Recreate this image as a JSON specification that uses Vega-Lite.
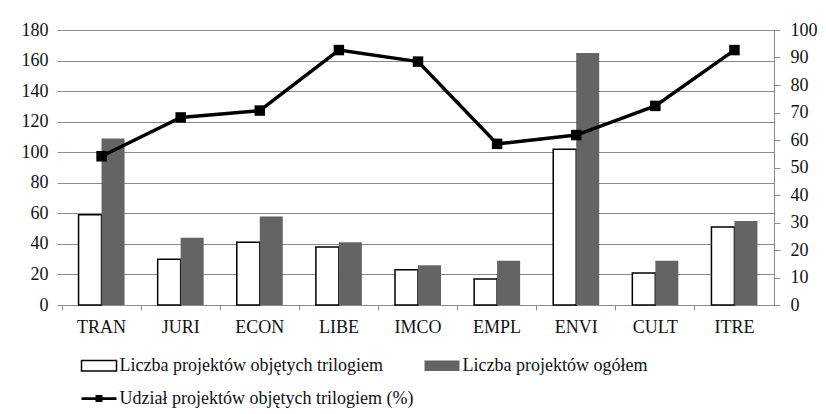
{
  "$schema": "https://vega.github.io/schema/vega-lite/v6.json",
  "width": 712,
  "height": 275,
  "autosize": {"type": "none"},
  "padding": {"left": 62, "top": 30, "right": 52, "bottom": 109},
  "background": "white",
  "config": {
    "view": {"stroke": null},
    "font": "Liberation Serif",
    "axis": {"labelFont": "Liberation Serif", "labelFontSize": 18, "labelColor": "#111111", "gridColor": "#8a8a8a", "tickColor": "#8a8a8a", "domainColor": "#8a8a8a", "gridWidth": 1, "tickWidth": 1, "domainWidth": 1, "title": null},
    "legend": {
      "orient": "none",
      "legendX": 23.5,
      "legendY": 322,
      "direction": "horizontal",
      "columns": 2,
      "columnPadding": 8,
      "rowPadding": 10,
      "padding": 0,
      "symbolSize": 625,
      "symbolStrokeWidth": 1.5,
      "symbolOpacity": 1,
      "labelFont": "Liberation Serif",
      "labelFontSize": 18,
      "labelColor": "#111111",
      "labelOffset": 7,
      "labelLimit": 400
    }
  },
  "datasets": {
    "bars": [
      {"kom": "TRAN", "series": "Liczba projektów objętych trilogiem", "value": 59},
      {"kom": "TRAN", "series": "Liczba projektów ogółem", "value": 109},
      {"kom": "JURI", "series": "Liczba projektów objętych trilogiem", "value": 30},
      {"kom": "JURI", "series": "Liczba projektów ogółem", "value": 44},
      {"kom": "ECON", "series": "Liczba projektów objętych trilogiem", "value": 41},
      {"kom": "ECON", "series": "Liczba projektów ogółem", "value": 58},
      {"kom": "LIBE", "series": "Liczba projektów objętych trilogiem", "value": 38},
      {"kom": "LIBE", "series": "Liczba projektów ogółem", "value": 41},
      {"kom": "IMCO", "series": "Liczba projektów objętych trilogiem", "value": 23},
      {"kom": "IMCO", "series": "Liczba projektów ogółem", "value": 26},
      {"kom": "EMPL", "series": "Liczba projektów objętych trilogiem", "value": 17},
      {"kom": "EMPL", "series": "Liczba projektów ogółem", "value": 29},
      {"kom": "ENVI", "series": "Liczba projektów objętych trilogiem", "value": 102},
      {"kom": "ENVI", "series": "Liczba projektów ogółem", "value": 165},
      {"kom": "CULT", "series": "Liczba projektów objętych trilogiem", "value": 21},
      {"kom": "CULT", "series": "Liczba projektów ogółem", "value": 29},
      {"kom": "ITRE", "series": "Liczba projektów objętych trilogiem", "value": 51},
      {"kom": "ITRE", "series": "Liczba projektów ogółem", "value": 55}
    ],
    "share": [
      {"kom": "TRAN", "series": "Udział projektów objętych trilogiem (%)", "udzial": 54.1},
      {"kom": "JURI", "series": "Udział projektów objętych trilogiem (%)", "udzial": 68.2},
      {"kom": "ECON", "series": "Udział projektów objętych trilogiem (%)", "udzial": 70.7},
      {"kom": "LIBE", "series": "Udział projektów objętych trilogiem (%)", "udzial": 92.7},
      {"kom": "IMCO", "series": "Udział projektów objętych trilogiem (%)", "udzial": 88.5},
      {"kom": "EMPL", "series": "Udział projektów objętych trilogiem (%)", "udzial": 58.6},
      {"kom": "ENVI", "series": "Udział projektów objętych trilogiem (%)", "udzial": 61.8},
      {"kom": "CULT", "series": "Udział projektów objętych trilogiem (%)", "udzial": 72.4},
      {"kom": "ITRE", "series": "Udział projektów objętych trilogiem (%)", "udzial": 92.7}
    ]
  },
  "layer": [
    {
      "data": {"name": "bars"},
      "mark": {"type": "bar", "strokeWidth": 1.5},
      "encoding": {
        "x": {
          "field": "kom", "type": "nominal", "sort": null,
          "scale": {"paddingInner": 0, "paddingOuter": 0},
          "axis": {"labelAngle": 0, "tickSize": 5, "labelPadding": 8, "bandPosition": 0, "grid": false, "domain": true}
        },
        "xOffset": {
          "field": "series", "type": "nominal",
          "sort": ["Liczba projektów objętych trilogiem", "Liczba projektów ogółem"],
          "scale": {"paddingInner": 0, "paddingOuter": 0.72}
        },
        "y": {
          "field": "value", "type": "quantitative",
          "scale": {"domain": [0, 180], "nice": false},
          "axis": {"values": [0, 20, 40, 60, 80, 100, 120, 140, 160, 180], "tickSize": 5, "labelPadding": 9, "domain": false, "grid": true, "orient": "left"}
        },
        "fill": {
          "field": "series", "type": "nominal",
          "scale": {
            "domain": ["Liczba projektów objętych trilogiem", "Liczba projektów ogółem", "Udział projektów objętych trilogiem (%)"],
            "range": ["white", "#646464", "black"]
          },
          "legend": {"title": null}
        },
        "stroke": {
          "field": "series", "type": "nominal",
          "scale": {
            "domain": ["Liczba projektów objętych trilogiem", "Liczba projektów ogółem", "Udział projektów objętych trilogiem (%)"],
            "range": ["black", "transparent", "transparent"]
          },
          "legend": {"title": null}
        }
      }
    },
    {
      "data": {"name": "bars"},
      "mark": {"type": "point", "filled": true, "opacity": 0},
      "encoding": {
        "x": {"field": "kom", "type": "nominal", "sort": null},
        "y": {"field": "value", "type": "quantitative", "scale": {"domain": [0, 180], "nice": false}, "axis": null},
        "shape": {
          "field": "series", "type": "nominal",
          "scale": {
            "domain": ["Liczba projektów objętych trilogiem", "Liczba projektów ogółem", "Udział projektów objętych trilogiem (%)"],
            "range": ["M-1.4,-0.42H1.4V0.42H-1.4Z", "M-1.4,-0.42H1.4V0.42H-1.4Z", "M-1.4,-0.11H1.4V0.11H-1.4Z M-0.28,-0.28H0.28V0.28H-0.28Z"]
          },
          "legend": {"title": null}
        }
      }
    },
    {
      "data": {"name": "share"},
      "mark": {"type": "line", "color": "black", "strokeWidth": 3.5},
      "encoding": {
        "x": {"field": "kom", "type": "nominal", "sort": null},
        "y": {
          "field": "udzial", "type": "quantitative",
          "scale": {"domain": [0, 100], "nice": false},
          "axis": {"orient": "right", "values": [0, 10, 20, 30, 40, 50, 60, 70, 80, 90, 100], "tickSize": 6, "labelPadding": 10, "domain": true, "grid": false}
        }
      }
    },
    {
      "data": {"name": "share"},
      "mark": {"type": "point", "shape": "square", "filled": true, "color": "black", "size": 110, "opacity": 1},
      "encoding": {
        "x": {"field": "kom", "type": "nominal", "sort": null},
        "y": {"field": "udzial", "type": "quantitative", "scale": {"domain": [0, 100], "nice": false}, "axis": null}
      }
    }
  ],
  "resolve": {"scale": {"y": "independent"}}
}
